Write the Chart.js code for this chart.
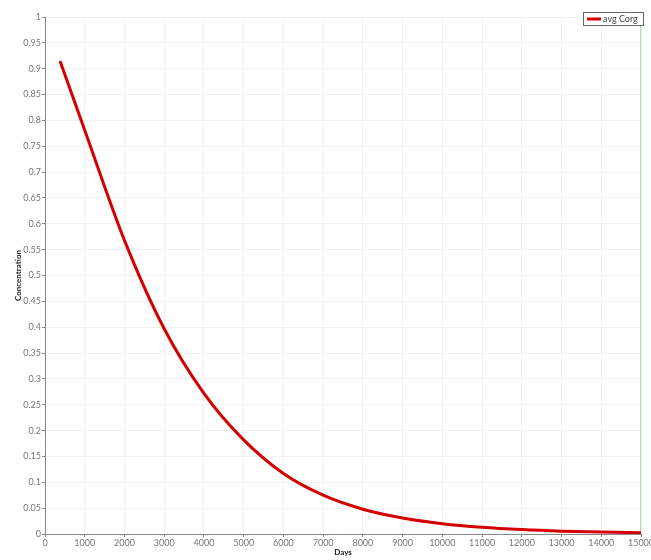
<!DOCTYPE html>
<html>
<head>
<meta charset="utf-8">
<script src="https://cdn.jsdelivr.net/npm/chart.js@4.4.1/dist/chart.umd.min.js"></script>
<style>
  html, body { margin: 0; padding: 0; background: #fff; }
  #wrap { width: 651px; height: 560px; position: relative; }
  canvas { display: block; }
</style>
</head>
<body>
<div id="wrap"><canvas id="myChart" width="651" height="560"></canvas></div>
<script>
// values
const days = [378, 1000, 2000, 3000, 4000, 5000, 6000, 7000, 8000, 9000, 10000, 11000, 12000, 13000, 14000, 15000];
const avgCorg = [0.915, 0.781, 0.568, 0.397, 0.272, 0.182, 0.117, 0.075, 0.048, 0.031, 0.020, 0.013, 0.0085, 0.0055, 0.0037, 0.0025];
const markerDay = [15000, 15000];
const markerY = [0, 1];

const FONT = "Lato, 'Open Sans', sans-serif";

// small boxed legend in the top right corner, like the original
const boxLegend = {
  id: "boxLegend",
  afterDraw(chart) {
    const ctx = chart.ctx;
    const ds = chart.data.datasets[0];
    ctx.save();
    ctx.fillStyle = "#fff";
    ctx.fillRect(583.5, 12.5, 60, 13);
    ctx.strokeStyle = "#666";
    ctx.lineWidth = 1;
    ctx.strokeRect(583.5, 12.5, 60, 13);
    ctx.strokeStyle = ds.borderColor;
    ctx.lineWidth = 3;
    ctx.beginPath();
    ctx.moveTo(587, 19);
    ctx.lineTo(601, 19);
    ctx.stroke();
    ctx.fillStyle = "#444";
    ctx.font = "9px " + FONT;
    ctx.textBaseline = "middle";
    ctx.fillText(ds.label, 603, 19.5);
    ctx.restore();
  },
};

const ctx = document.getElementById("myChart").getContext("2d");
const chart = new Chart(ctx, {
  type: "line",
  data: {
    datasets: [
      {
        label: "avg Corg",
        data: days.map((d, i) => ({ x: d, y: avgCorg[i] })),
        borderColor: "#d40000",
        borderWidth: 3,
        pointRadius: 0,
        cubicInterpolationMode: "monotone",
        fill: false,
      },
      {
        label: "time",
        data: markerDay.map((d, i) => ({ x: d, y: markerY[i] })),
        borderColor: "#9dd67a",
        borderWidth: 1.5,
        pointRadius: 0,
        fill: false,
      },
    ],
  },
  options: {
    responsive: false,
    animation: false,
    layout: { padding: { top: 17, right: 10, left: 0, bottom: 0 } },
    plugins: {
      legend: { display: false },
      tooltip: { enabled: false },
    },
    scales: {
      x: {
        type: "linear",
        min: 0,
        max: 15000,
        afterFit: (scale) => {
          scale.height = 26;
          scale.paddingLeft = 0;
          scale.paddingRight = 0;
        },
        ticks: {
          stepSize: 1000,
          autoSkip: false,
          padding: 1,
          maxRotation: 0,
          color: "#777",
          font: { family: FONT, size: 9 },
          callback: (v) => String(v),
        },
        grid: { color: "#f1f1f1", tickColor: "#888", tickLength: 3 },
        border: { color: "#888" },
        title: {
          display: true,
          text: "Days",
          color: "#222",
          font: { family: FONT, size: 8, weight: "bold" },
          padding: { top: 0, bottom: 3 },
        },
      },
      y: {
        min: 0,
        max: 1,
        afterFit: (scale) => {
          scale.width = 45;
          scale.paddingTop = 0;
          scale.paddingBottom = 0;
        },
        ticks: {
          stepSize: 0.05,
          autoSkip: false,
          padding: 1,
          color: "#777",
          font: { family: FONT, size: 9 },
          callback: (v) => String(+v.toFixed(2)),
        },
        grid: { color: "#f1f1f1", tickColor: "#888", tickLength: 3 },
        border: { color: "#888" },
        title: {
          display: true,
          text: "Concentration",
          color: "#222",
          font: { family: FONT, size: 8, weight: "bold" },
          padding: { top: 14, bottom: 0 },
        },
      },
    },
  },
  plugins: [boxLegend],
});
</script>
</body>
</html>
